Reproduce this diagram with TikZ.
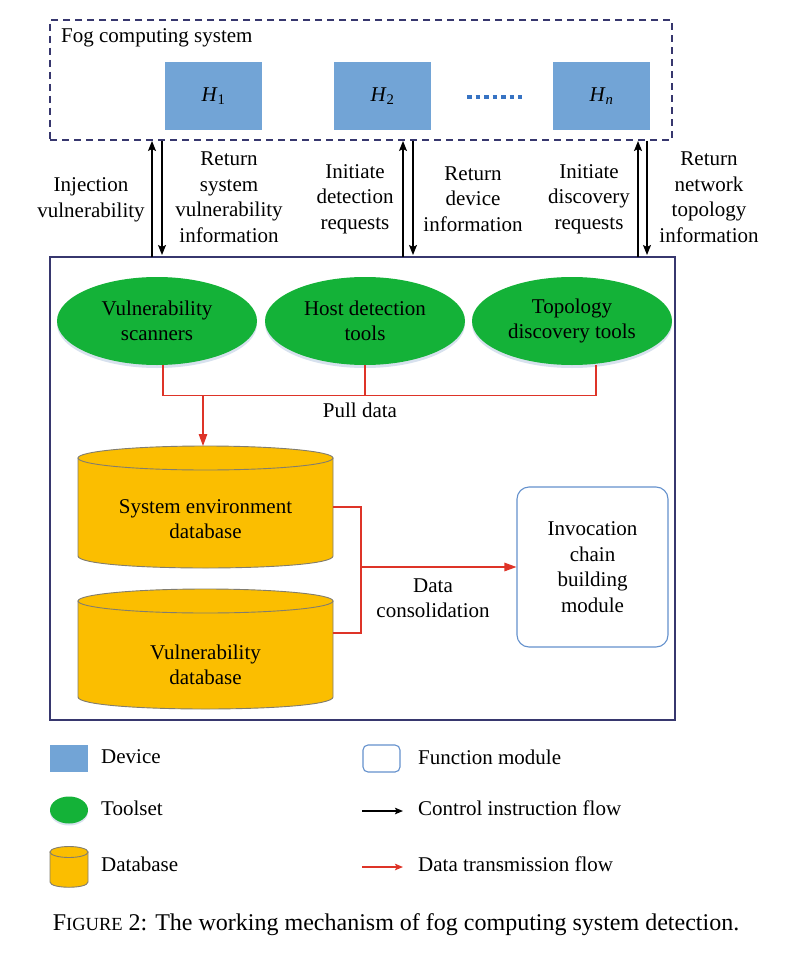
\documentclass[tikz,border=0pt]{standalone}
\usepackage{fontspec}
\setmainfont{Liberation Serif}
\usetikzlibrary{arrows.meta,calc,shapes.geometric,shadows}
\definecolor{devblue}{RGB}{114,164,214}
\definecolor{tgreen}{RGB}{20,178,56}
\definecolor{dbyellow}{RGB}{251,190,0}
\definecolor{dbedge}{RGB}{130,125,110}
\definecolor{flowred}{RGB}{222,52,40}
\definecolor{boxc}{RGB}{55,55,110}
\definecolor{funcblue}{RGB}{100,145,205}
\definecolor{dotblue}{RGB}{55,115,195}
\definecolor{shade}{RGB}{215,225,238}
\begin{document}
\begin{tikzpicture}[x=1pt,y=-1pt,font=\fontsize{21}{25.5}\selectfont,
  device/.style={fill=devblue,draw=none,minimum width=97pt,minimum height=68pt,inner sep=0pt},
  toolset/.style={ellipse,fill=tgreen,draw=none,minimum width=200pt,minimum height=88pt,inner sep=0pt,align=center,
     drop shadow={shadow xshift=0pt,shadow yshift=-3pt,fill=shade,opacity=1}},
  func/.style={draw=funcblue,line width=1.1pt,rounded corners=12pt,fill=white,align=center,inner sep=0pt},
  lbl/.style={align=center,inner sep=0pt},
  ctrl/.style={draw=black,line width=1.3pt,-{Stealth[length=10pt,width=8pt,inset=2pt]}},
  data/.style={draw=flowred,line width=1.2pt},
  dataarr/.style={data,-{Triangle[length=12pt,width=8.5pt]}},
  dbfill/.style={fill=dbyellow,draw=dbedge,line width=0.9pt},
]
\useasboundingbox (0,0) rectangle (784,960);
\fill[white] (0,0) rectangle (784,960);

% Fog computing system
\node[draw=boxc,dash pattern=on 7pt off 5pt,line width=1.3pt,minimum width=622pt,minimum height=120pt,inner sep=0pt] (fog) at (361,80) {};
\node[anchor=west,inner sep=0pt] (fogt) at (61,38) {Fog computing system};
\node[device] (h1) at (213.5,96) {\textit{H}\textsubscript{1}};
\node[device] (h2) at (382.5,96) {\textit{H}\textsubscript{2}};
\node[device] (hn) at (601.5,96) {\textit{H}\textsubscript{\textit{n}}};
\draw[dotblue,line width=4pt,dash pattern=on 4.5pt off 4pt] (467,97) -- (522,97);

% main box
\node[draw=boxc,line width=1.3pt,minimum width=625pt,minimum height=463pt,inner sep=0pt] (main) at (362.5,488.5) {};

% control arrows
\coordinate (u1b) at (152,257); \coordinate (u1t) at (152,141);
\coordinate (d1t) at (162,141); \coordinate (d1b) at (162,255);
\coordinate (u2b) at (403,257); \coordinate (u2t) at (403,141);
\coordinate (d2t) at (413,141); \coordinate (d2b) at (413,255);
\coordinate (u3b) at (638,257); \coordinate (u3t) at (638,141);
\coordinate (d3t) at (647,141); \coordinate (d3b) at (647,255);
\draw[ctrl] (u1b) -- (u1t);
\draw[ctrl] (d1t) -- (d1b);
\draw[ctrl] (u2b) -- (u2t);
\draw[ctrl] (d2t) -- (d2b);
\draw[ctrl,line width=1.7pt] (u3b) -- (u3t);
\draw[ctrl] (d3t) -- (d3b);

\node[lbl] (l1) at (91,200) {Injection\\vulnerability};
\node[lbl] (l2) at (229,197) {Return\\system\\vulnerability\\information};
\node[lbl] (l3) at (355,199) {Initiate\\detection\\requests};
\node[lbl] (l4) at (473,199) {Return\\device\\information};
\node[lbl] (l5) at (589,199) {Initiate\\discovery\\requests};
\node[lbl] (l6) at (709,197) {Return\\network\\topology\\information};

% toolsets
\node[toolset] (e1) at (157,321) {Vulnerability\\scanners};
\node[toolset] (e2) at (365,321) {Host detection\\tools};
\node[toolset] (e3) at (572,321) {Topology\\discovery tools};

% pull data
\coordinate (j) at (203,395);
\draw[data] ($(e1.south)+(6,0)$) |- ($(e3.south)+(24,30)$) -- ($(e3.south)+(24,0)$);
\draw[data] (e2.south) -- ($(e2.south)+(0,30)$);
\node[lbl] (pull) at (360,410) {Pull data};

% databases
\draw[dbfill] (78,458) -- (78,556) .. controls (78,572) and (333,572) .. (333,556) -- (333,458) -- cycle;
\draw[dbfill] (205.5,458) ellipse (127.5 and 12);
\node[lbl,minimum width=255pt,minimum height=100pt] (db1) at (205.5,519) {System environment\\database};
\draw[dbfill] (78,601) -- (78,697) .. controls (78,713) and (333,713) .. (333,697) -- (333,601) -- cycle;
\draw[dbfill] (205.5,601) ellipse (127.5 and 12);
\node[lbl,minimum width=255pt,minimum height=100pt] (db2) at (205.5,665) {Vulnerability\\database};
\coordinate (db1top) at (203,446);
\draw[dataarr] (j) -- (db1top);

% invocation module
\node[func,minimum width=151pt,minimum height=160pt] (inv) at (592.5,567) {Invocation\\chain\\building\\module};
\coordinate (c1) at (333,507);
\coordinate (c2) at (333,633);
\coordinate (k) at (361,567);
\draw[data] (c1) -- (361,507) -- (361,633) -- (c2);
\draw[dataarr] (k) -- (inv.west);
\node[lbl] (cons) at (433,598) {Data\\consolidation};

% legend
\node[device,minimum width=38pt,minimum height=27pt] (ldev) at (69,758.5) {};
\node[anchor=west,inner sep=0pt] (tdev) at (101,757) {Device};
\node[ellipse,fill=tgreen,minimum width=38pt,minimum height=27pt,inner sep=0pt,drop shadow={shadow xshift=0pt,shadow yshift=-2pt,fill=shade,opacity=1}] (ltool) at (69,810) {};
\node[anchor=west,inner sep=0pt] (ttool) at (101,808) {Toolset};
\draw[dbfill] (50,852) -- (50,882) .. controls (50,889) and (88,889) .. (88,882) -- (88,852) -- cycle;
\draw[dbfill] (69,852) ellipse (19 and 5.5);
\node[anchor=west,inner sep=0pt] (tdb) at (101,864) {Database};
\node[func,rounded corners=5pt,minimum width=37pt,minimum height=27pt] (lfunc) at (381.5,758.5) {};
\node[anchor=west,inner sep=0pt] (tfunc) at (418,757) {Function module};
\coordinate (ca) at (362,811); \coordinate (cb) at (403,811);
\draw[ctrl,-{Stealth[length=8pt,width=6.5pt,inset=1.5pt]}] (ca) -- (cb);
\node[anchor=west,inner sep=0pt] (tctrl) at (418,808) {Control instruction flow};
\coordinate (da) at (362,867); \coordinate (dbb) at (403,867);
\draw[data,-{Stealth[length=8pt,width=6.5pt,inset=1.5pt]}] (da) -- (dbb);
\node[anchor=west,inner sep=0pt] (tdata) at (418,864) {Data transmission flow};

% caption
\node[inner sep=0pt] (cap) at (396,925) {\fontsize{24}{28}\selectfont F{\fontsize{18.5}{22}\selectfont IGURE} 2: The working mechanism of fog computing system detection.};
\end{tikzpicture}
\end{document}
